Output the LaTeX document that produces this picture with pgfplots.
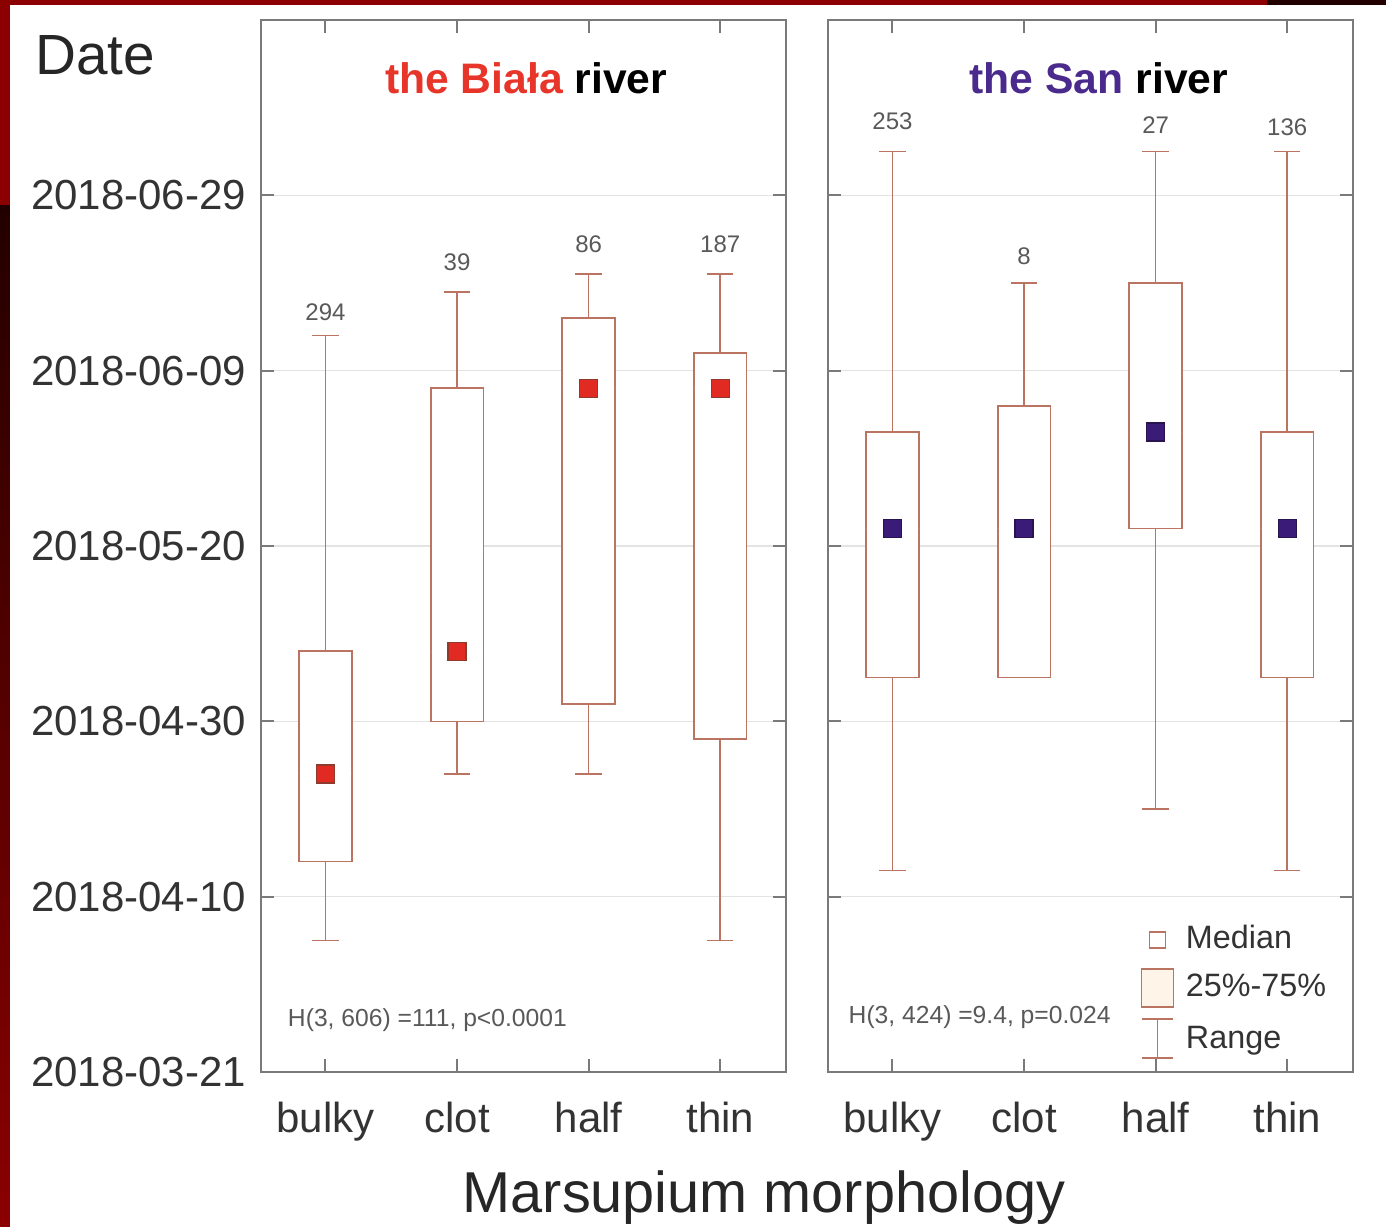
\documentclass[border=0pt]{standalone}
\usepackage{fontspec}
\setmainfont{Liberation Sans}
\usepackage{pgfplots}
\usepgfplotslibrary{statistics}
\pgfplotsset{compat=1.18}

\definecolor{boxcol}{HTML}{BC7462}
\definecolor{bred}{HTML}{E02A22}
\definecolor{bredd}{HTML}{8E3A2C}
\definecolor{sblue}{HTML}{3A1C78}
\definecolor{sblued}{HTML}{2A1450}
\definecolor{tblue}{HTML}{4A2A8C}
\definecolor{tred}{HTML}{E8352A}
\definecolor{frame}{HTML}{7A7A7A}
\definecolor{darkred}{HTML}{8B0000}
\definecolor{cream}{HTML}{FFF4E8}

\pgfplotsset{
  panel/.style={
    scale only axis,
    width=157.5pt, height=315.6pt,
    xmin=-0.49, xmax=3.5,
    ymin=0, ymax=120,
    xtick={0,1,2,3},
    xticklabels={bulky,clot,half,thin},
    ytick={0,20,40,60,80,100},
    ymajorgrids,
    grid style={gray!22},
    tick align=inside,
    major tick length=4pt,
    axis line style={frame, line width=0.7pt},
    tick style={frame, line width=0.6pt},
    ticklabel style={font=\fontsize{12.6}{14}\selectfont, text=black!80},
    xticklabel style={yshift=-5.4pt},
    yticklabel style={xshift=-1pt},
    every axis plot/.append style={line width=0.5pt},
    boxplot/draw direction=y,
    boxplot/every median/.style={draw=none},
  },
  % count labels: text placed just above each whisker
  cnt/.style={draw=none, mark=none, nodes near coords, point meta=explicit symbolic,
    nodes near coords style={anchor=center, font=\fontsize{7.2}{8}\selectfont, text=black!65}},
  bx/.style={boxcol, fill=white, boxplot prepared={box extend=0.4, whisker extend=0.2, #1}},
}

\begin{document}
\begin{tikzpicture}
\path[use as bounding box] (-78.3pt,-46.2pt) rectangle (337.5pt,321.6pt);
\fill[white] (-78.3pt,-46.2pt) rectangle (337.5pt,321.6pt);
\fill[darkred] (-78.3pt,260.1pt) rectangle (-75.3pt,321.6pt);
\shade[top color=black!75!darkred, bottom color=darkred] (-78.3pt,-46.2pt) rectangle (-75.3pt,260.1pt);
\fill[darkred] (-78.3pt,320.1pt) rectangle (301.8pt,321.6pt);
\fill[black!75!darkred] (301.8pt,320.1pt) rectangle (337.5pt,321.6pt);

% the Biala river
\begin{axis}[panel,
  yticklabels={2018-03-21,2018-04-10,2018-04-30,2018-05-20,2018-06-09,2018-06-29}]
\addplot[bx={draw position=0, lower whisker=15, lower quartile=24, median=34, upper quartile=48, upper whisker=84}] coordinates {};
\addplot[bx={draw position=1, lower whisker=34, lower quartile=40, median=48, upper quartile=78, upper whisker=89}] coordinates {};
\addplot[bx={draw position=2, lower whisker=34, lower quartile=42, median=78, upper quartile=86, upper whisker=91}] coordinates {};
\addplot[bx={draw position=3, lower whisker=15, lower quartile=38, median=78, upper quartile=82, upper whisker=91}] coordinates {};
\addplot[only marks, mark=square*, mark size=2.7pt, mark options={fill=bred, draw=bredd, line width=0.4pt}]
  coordinates {(0,34) (1,48) (2,78) (3,78)};
\addplot[cnt] coordinates {(0,86.7)[294] (1,92.4)[39] (2,94.4)[86] (3,94.4)[187]};
\node[font=\fontsize{12.8}{14}\bfseries] at (rel axis cs:0.505,0.945)
  {\textcolor{tred}{the Biała} river};
\node[anchor=west, font=\fontsize{7.4}{9}\selectfont, text=black!65] at (rel axis cs:0.029,0.049)
  {H(3, 606) =111, p<0.0001};
\end{axis}

% the San river
\begin{axis}[panel, at={(170.1pt,0pt)}, yticklabels={},
  legend style={at={(rel axis cs:0.593,0.143)}, anchor=north west, draw=none, fill=none,
    inner sep=0pt, row sep=3.2pt, column sep=2.3pt,
    nodes={inner sep=1pt}, font=\fontsize{9.7}{11}\selectfont, text=black!80},
  legend cell align=left]
\addlegendimage{legend image code/.code={
  \path (0pt,0pt) (10pt,0pt);
  \draw[boxcol, fill=white, line width=0.5pt] (2.6pt,-2.4pt) rectangle (7.4pt,2.4pt);}}
\addlegendentry{Median}
\addlegendimage{legend image code/.code={
  \draw[boxcol, fill=cream, line width=0.5pt] (0.2pt,-5.7pt) rectangle (9.8pt,5.7pt);}}
\addlegendentry{25\%-75\%}
\addlegendimage{legend image code/.code={
  \draw[boxcol, line width=0.5pt] (0.35pt,6.2pt) -- (9.65pt,6.2pt) (5pt,6.2pt) -- (5pt,-5.5pt) (0.35pt,-5.5pt) -- (9.65pt,-5.5pt);}}
\addlegendentry{Range}
\addplot[bx={draw position=0, lower whisker=23, lower quartile=45, median=62, upper quartile=73, upper whisker=105}] coordinates {};
\addplot[bx={draw position=1, lower whisker=45, lower quartile=45, median=62, upper quartile=76, upper whisker=90}] coordinates {};
\addplot[bx={draw position=2, lower whisker=30, lower quartile=62, median=73, upper quartile=90, upper whisker=105}] coordinates {};
\addplot[bx={draw position=3, lower whisker=23, lower quartile=45, median=62, upper quartile=73, upper whisker=105}] coordinates {};
\addplot[only marks, mark=square*, mark size=2.7pt, mark options={fill=sblue, draw=sblued, line width=0.4pt}]
  coordinates {(0,62) (1,62) (2,73) (3,62)};
\addplot[cnt] coordinates {(0,108.5)[253] (1,93.1)[8] (2,108.0)[27] (3,107.8)[136]};
\node[font=\fontsize{12.8}{14}\bfseries] at (rel axis cs:0.516,0.945)
  {\textcolor{tblue}{the San} river};
\node[anchor=west, font=\fontsize{7.4}{9}\selectfont, text=black!65] at (rel axis cs:0.017,0.052)
  {H(3, 424) =9.4, p=0.024};
\end{axis}

\node[font=\fontsize{17}{20}\selectfont, text=black!85] at (-49.8pt,305.1pt) {Date};
\node[font=\fontsize{17.3}{20}\selectfont, text=black!85] at (150.9pt,-37.8pt) {Marsupium morphology};
\end{tikzpicture}
\end{document}
